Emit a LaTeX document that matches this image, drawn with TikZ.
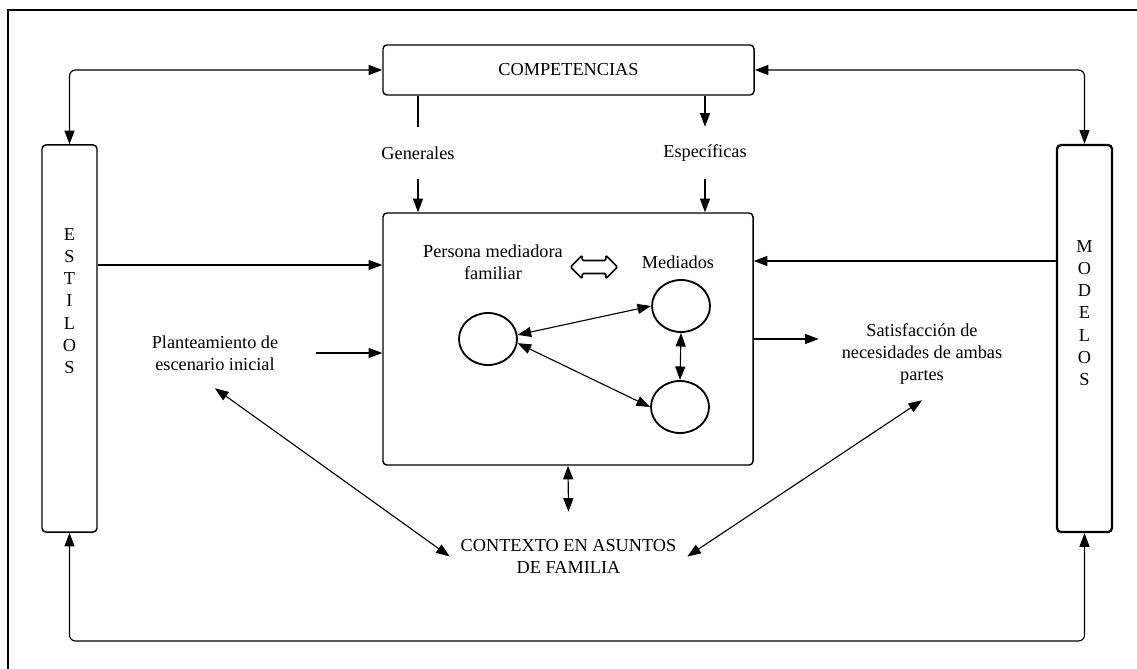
\documentclass[tikz,border=0pt]{standalone}
\usepackage{fontspec}
\setmainfont{Liberation Serif}
\usetikzlibrary{arrows.meta,shapes.geometric,shapes.arrows}
\tikzstyle{box}=[draw, rounded corners=0.1cm, line width=1pt, inner sep=0]
\tikzstyle{vbox}=[box, minimum width=1.375cm, minimum height=9.675cm]
\tikzstyle{blob}=[ellipse, draw, line width=1.3pt, minimum width=1.45cm, minimum height=1.3cm, inner sep=0]
\tikzstyle{lbl}=[align=center, inner sep=0]
\tikzstyle{link}=[line width=0.8pt, >={Triangle[length=0.34cm, width=0.25cm]}]

\begin{document}
\begin{tikzpicture}[x=0.025cm, y=-0.025cm, font=\fontsize{13}{15.8}\selectfont]
\useasboundingbox (0,0) rectangle (1137,669);

% frame
\draw [line width=1.5pt] (1137,10) -- (8,10) -- (8,669);

\node [box, minimum width=9.275cm, minimum height=1.25cm] (comp) at (568.5,70) {COMPETENCIAS};
\node [vbox] (estilos) at (69.5,338.5) {};
\node [vbox, line width=1.6pt] (modelos) at (1084.5,338.5) {};
\node [lbl] (estilosT) at (69.5,301) {E\\S\\T\\I\\L\\O\\S};
\node [lbl] (modelosT) at (1084.5,313) {M\\O\\D\\E\\L\\O\\S};

\node [box, minimum width=9.25cm, minimum height=6.3cm] (med) at (568,339) {};

\node [lbl, minimum height=1.3cm] (gen) at (418,153) {Generales};
\node [lbl, minimum height=1.3cm] (esp) at (705,153) {Específicas};

\node [lbl] (pers) at (493,262) {Persona mediadora\\familiar};
\node [lbl] (mediados) at (678,262) {Mediados};
\node [double arrow, draw, line width=1.2pt, rounded corners=1pt, inner xsep=0, inner ysep=0.14cm,
       minimum height=1.175cm, double arrow head extend=0.13cm] (swap) at (594,267) {};

\node [blob] (pA) at (488,339) {};
\node [blob] (pB) at (681,306) {};
\node [blob] (pC) at (680,407) {};

\node [lbl, minimum width=5.05cm, minimum height=1.75cm] (plant) at (215,353) {Planteamiento de\\escenario inicial};
\node [lbl, minimum width=5.15cm, minimum height=2.3cm] (sat) at (922,354) {Satisfacción de\\necesidades de ambas\\partes};
\node [lbl, minimum width=5.925cm, minimum height=2.225cm] (ctx) at (568.5,556.5) {CONTEXTO EN ASUNTOS\\DE FAMILIA};

\coordinate (yE) at (0,265);
\coordinate (yM) at (0,261);
\coordinate (loop) at (568,641);

% outer loop
\draw [link, <->, rounded corners=0.15cm] (comp.west) -| (estilos.north);
\draw [link, <->, rounded corners=0.15cm] (comp.east) -| (modelos.north);
\draw [link, <->, rounded corners=0.15cm] (estilos.south) |- (loop) -| (modelos.south);

% competencias
\draw [link] (comp.south -| gen) -- (gen.north);
\draw [link, ->] (gen.south) -- (gen.south |- med.north);
\draw [link, ->] (comp.south -| esp) -- (esp.north);
\draw [link, ->] (esp.south) -- (esp.south |- med.north);

% into and out of the mediation box
\draw [link, ->] (estilos.east |- yE) -- (med.west |- yE);
\draw [link, ->] (modelos.west |- yM) -- (med.east |- yM);
\draw [link, ->] (plant.east) -- (med.west |- plant.east);
\draw [link, ->] (med.east) -- (sat.west |- med.east);
\draw [link, <->] (plant.south) -- (ctx.west);
\draw [link, <->] (sat.south) -- (ctx.east);
\draw [link, <->] (med.south) -- (ctx.north);

% inside
\draw [link, <->] (pA.8) -- (pB.west);
\draw [link, <->] (pA.-8) -- (pC.west);
\draw [link, <->] (pB.south) -- (pC.north);

\end{tikzpicture}
\end{document}
